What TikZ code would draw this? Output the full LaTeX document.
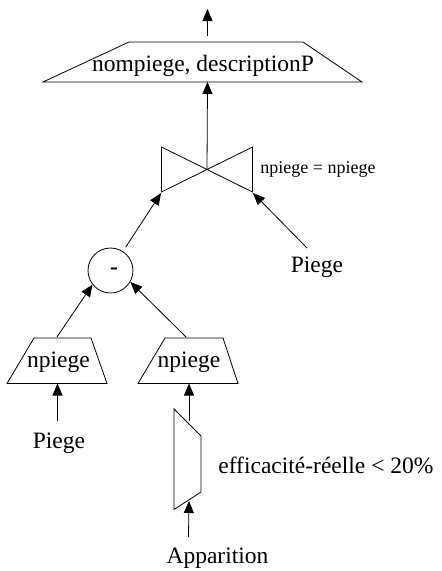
\documentclass[tikz,border=0pt]{standalone}
\usepackage{fontspec}
\setmainfont{Liberation Serif}
\usetikzlibrary{arrows.meta}
\begin{document}
\begin{tikzpicture}[x=1pt,y=-1pt,line width=0.8pt,
  conn/.style={-{Triangle[length=12pt,width=10pt]}},
  shp/.style={draw,line join=miter},
  lbl/.style={font=\fontsize{23.5}{28}\selectfont,anchor=base,inner sep=0pt},
  lblw/.style={font=\fontsize{23.5}{28}\selectfont,anchor=base west,inner sep=0pt},
  small/.style={font=\fontsize{18}{22}\selectfont,anchor=base west,inner sep=0pt}]
\useasboundingbox (0,0) rectangle (442,571);

% top projection
\draw[shp] (129,42) -- (303,42) -- (362,82) -- (43,82) -- cycle;
\node[lbl] (proj) at (203,71) {nompiege, descriptionP};
\coordinate (projtop) at (207.5,36);
\coordinate (out) at (207.5,9);
\coordinate (projbot) at (207.5,82);
\draw[conn] (projtop) -- (out);

% join
\draw[shp] (161.5,147) -- (252.5,192) -- (252.5,147) -- (161.5,192) -- cycle;
\coordinate (join) at (207,169.5);
\coordinate (jl) at (161,193);
\coordinate (jr) at (253,193);
\draw[conn] (join) -- (projbot);
\node[small] (cond) at (260,173) {npiege = npiege};

% difference
\node[draw,circle,minimum size=45pt,inner sep=0pt] (diff) at (110.5,270.5) {};
\node[font=\fontsize{23.5}{28}\selectfont\bfseries,inner sep=0pt] (minus) at (114,271) {-};
\draw[conn,shorten <=5pt] (diff) -- (jl);

% right Piege
\node[lbl] (piegeR) at (317,272) {Piege};
\coordinate (pr) at (307,248);
\draw[conn] (pr) -- (jr);

% left projection npiege
\draw[shp] (34,338) -- (91,338) -- (107,383.5) -- (7,383.5) -- cycle;
\node[lbl] (np1) at (58.5,367) {npiege};
\coordinate (t1top) at (57,337);
\coordinate (t1bot) at (57.5,383.5);
\draw[conn] (t1top) -- (diff.218);

% right projection npiege
\draw[shp] (165,338) -- (223,338) -- (238,383.5) -- (138,383.5) -- cycle;
\node[lbl] (np2) at (189,367) {npiege};
\coordinate (t2top) at (186,337);
\coordinate (t2bot) at (189,383.5);
\draw[conn] (t2top) -- (diff.-30);

% left Piege
\node[lbl] (piegeL) at (59,448) {Piege};
\coordinate (pl) at (57.5,421);
\draw[conn] (pl) -- (t1bot);

% selection
\draw[shp] (174,409) -- (201,436) -- (201,492) -- (174,509.5) -- cycle;
\coordinate (seltop) at (189,421);
\coordinate (selbot) at (189,501);
\draw[conn] (seltop) -- (t2bot);
\node[lblw] (selcond) at (218,473) {efficacité-réelle < 20\%};

% Apparition
\node[lbl] (app) at (217.5,563) {Apparition};
\coordinate (ap) at (188.5,537);
\draw[conn] (ap) -- (selbot);
\end{tikzpicture}
\end{document}
